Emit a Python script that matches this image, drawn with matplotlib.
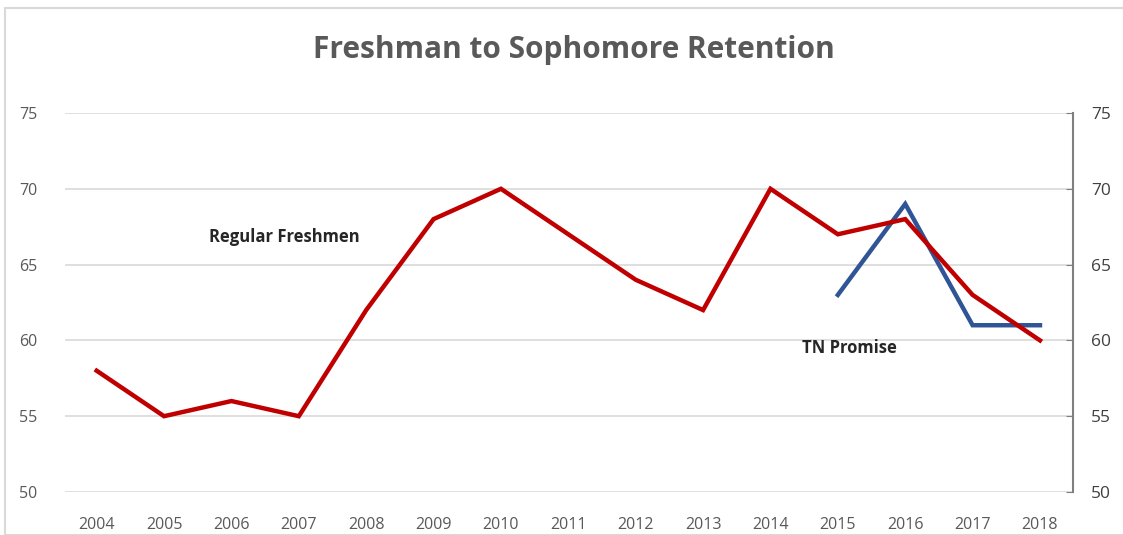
import matplotlib
matplotlib.use("Agg")
import matplotlib.pyplot as plt
from matplotlib.patches import Rectangle

years = [2004, 2005, 2006, 2007, 2008, 2009, 2010, 2011, 2012, 2013, 2014, 2015, 2016, 2017, 2018]
regular = [58, 55, 56, 55, 62, 68, 70, 67, 64, 62, 70, 67, 68, 63, 60]
tn_years = [2015, 2016, 2017, 2018]
tn_promise = [63, 69, 61, 61]
yticks = [50, 55, 60, 65, 70, 75]

plt.rcParams['font.family'] = ['Open Sans', 'DejaVu Sans']

fig = plt.figure(figsize=(11.23, 5.35), dpi=100)
fig.patches.append(Rectangle((5/1123, 0), 1.0, 1 - 8/535, transform=fig.transFigure,
                             fill=False, edgecolor='#d9d9d9', linewidth=1.5))
ax = fig.add_axes([65/1123, 43/535, (1073-65)/1123, (492-113)/535])

for y in yticks:
    ax.axhline(y, color='#d9d9d9', linewidth=1.2, zorder=0)

ax.plot(years, regular, color='#C00000', linewidth=3.2, solid_joinstyle='miter', zorder=3)
ax.plot(tn_years, tn_promise, color='#2F5597', linewidth=3.2, solid_joinstyle='miter', zorder=2)

ax.set_xlim(2003.53, 2018.49)
ax.set_ylim(50, 75)
ax.set_xticks(years)
ax.set_xticklabels([str(y) for y in years])
ax.set_yticks(yticks)
for s in ['top', 'right', 'left', 'bottom']:
    ax.spines[s].set_visible(False)
ax.tick_params(axis='both', length=0, colors='#595959', labelsize=11.5)
ax.tick_params(axis='x', pad=18)
ax.tick_params(axis='y', pad=20)

ax2 = ax.twinx()
ax2.set_ylim(50, 75)
ax2.set_yticks(yticks)
for s in ['top', 'left', 'bottom']:
    ax2.spines[s].set_visible(False)
ax2.spines['right'].set_color('#7f7f7f')
ax2.spines['right'].set_linewidth(1.5)
ax2.tick_params(axis='y', direction='in', length=5, color='#7f7f7f', labelcolor='#404040',
                labelsize=12.5, pad=13)

ax.text(2006.79, 66.8, 'Regular Freshmen', fontsize=12, fontweight='bold', color='#262626',
        ha='center', va='center')
ax.text(2015.17, 59.5, 'TN Promise', fontsize=12, fontweight='bold', color='#262626',
        ha='center', va='center')

fig.text(0.511, 1 - 50/535, 'Freshman to Sophomore Retention', fontsize=21.5, fontweight='bold',
         color='#595959', ha='center', va='center')

fig.savefig('out.png', dpi=100)
